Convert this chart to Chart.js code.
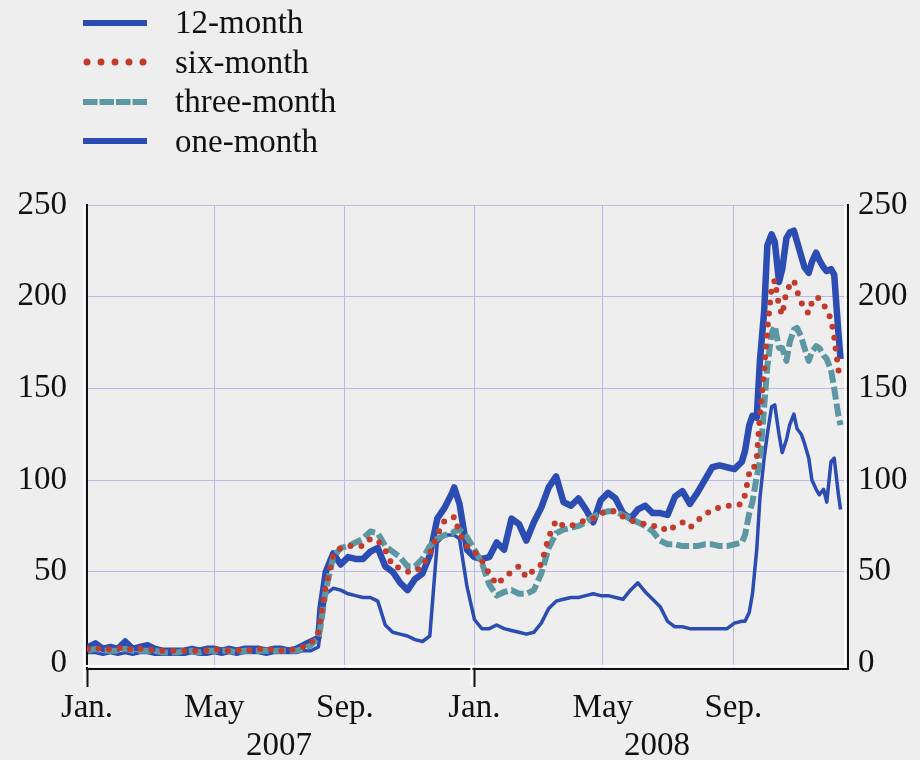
<!DOCTYPE html>
<html>
<head>
<meta charset="utf-8">
<script src="https://cdn.jsdelivr.net/npm/chart.js@4.4.1/dist/chart.umd.min.js"></script>
<style>
  html, body { margin: 0; padding: 0; background: #eeeeee; }
  #wrap { position: relative; width: 920px; height: 760px; overflow: hidden; }
  #chart { position: absolute; left: 0; top: 0; }
  #legend { position: absolute; left: 83px; top: 3px; }
  .item { display: flex; align-items: center; height: 39.5px; }
  .item canvas { width: 64px; height: 12px; margin-right: 28px; }
  .item span { font: 33px 'Liberation Serif', 'Times New Roman', serif; color: #111; line-height: 1; white-space: nowrap; }
</style>
</head>
<body>
<div id="wrap">
  <canvas id="chart" width="920" height="760"></canvas>
  <div id="legend"></div>
</div>
<script>
// Observation dates (weekly, denser around the sharpest moves)
const dates = [
  '2007-01-02','2007-01-09','2007-01-16','2007-01-23','2007-01-30','2007-02-06','2007-02-13','2007-02-20','2007-02-27','2007-03-06',
  '2007-03-13','2007-03-20','2007-03-27','2007-04-03','2007-04-10','2007-04-17','2007-04-24','2007-05-01','2007-05-08','2007-05-15',
  '2007-05-22','2007-05-29','2007-06-05','2007-06-12','2007-06-19','2007-06-26','2007-07-03','2007-07-10','2007-07-17','2007-07-24',
  '2007-07-31','2007-08-07','2007-08-09','2007-08-14','2007-08-21','2007-08-28','2007-09-04','2007-09-11','2007-09-18','2007-09-25',
  '2007-10-02','2007-10-09','2007-10-16','2007-10-23','2007-10-30','2007-11-06','2007-11-13','2007-11-20','2007-11-27','2007-12-04',
  '2007-12-11','2007-12-13','2007-12-18','2007-12-25',
  '2008-01-01','2008-01-08','2008-01-15','2008-01-22','2008-01-29','2008-02-05','2008-02-12','2008-02-19','2008-02-26','2008-03-04',
  '2008-03-11','2008-03-18','2008-03-25','2008-04-01','2008-04-08','2008-04-15','2008-04-22','2008-04-29','2008-05-06','2008-05-13',
  '2008-05-20','2008-05-27','2008-06-03','2008-06-10','2008-06-17','2008-06-24','2008-07-01','2008-07-08','2008-07-15','2008-07-22',
  '2008-07-29','2008-08-05','2008-08-12','2008-08-19','2008-08-26','2008-09-02','2008-09-09','2008-09-12','2008-09-16','2008-09-19',
  '2008-09-23','2008-09-26','2008-09-30','2008-10-03','2008-10-07','2008-10-10','2008-10-14','2008-10-17','2008-10-21','2008-10-24',
  '2008-10-28','2008-10-31','2008-11-04','2008-11-07','2008-11-11','2008-11-14','2008-11-18','2008-11-21','2008-11-25','2008-11-28',
  '2008-12-02','2008-12-05','2008-12-09','2008-12-11'
];

// Spreads, basis points
const twelveMonth = [
  9,11,8,9,8,12,8,9,10,8, 7,7,7,7,8,7,8,8,7,8, 7,8,8,8,7,8,8,7,8,10, 12,
  14,30,50,60,54,58,57,57,61,63,53,50,44,40,46,49,59,79,85,93,96,87,62,
  58,57,58,66,62,79,76,67,77,85, 96,102,88,86,90,84,77,89,93,90,
  82,79,84,86,82,82,81,91,94,87, 93,100,107,108,107,106,110,116,130,135,
  134,165,192,228,234,230,208,215,232,235, 236,230,222,216,213,219,224,220,216,214,
  215,212,180,166
];
const sixMonth = [
  8,9,7,8,8,9,7,8,8,7, 7,7,7,7,7,7,7,8,7,7, 7,8,7,8,7,8,7,7,8,9, 11,
  17,24,42,59,63,64,64,64,68,67,62,53,52,50,50,53,60,70,78,79,80,71,64,
  61,56,49,43,47,50,53,47,51,54, 69,78,75,75,77,78,79,82,83,83,
  80,78,77,76,75,75,72,75,77,74, 78,81,84,85,86,86,87,92,104,104,
  112,135,160,182,205,209,195,190,203,206, 209,203,197,193,191,197,200,199,196,192,
  188,178,160,155
];
const threeMonth = [
  7,8,7,7,7,8,7,7,7,7, 6,6,6,7,7,6,7,7,7,7, 6,7,7,7,7,7,7,7,7,8, 10,
  14,20,40,58,63,64,66,68,72,71,64,61,58,53,53,57,64,68,70,71,72,73,69,
  62,55,43,37,39,40,38,38,40,49, 63,71,73,74,75,77,80,82,83,83,
  81,79,77,75,72,67,65,65,64,64, 64,65,65,64,64,65,66,70,82,88,
  102,110,140,162,180,184,172,172,165,175, 182,183,178,172,165,170,173,172,168,166,
  160,150,135,130
];
const oneMonth = [
  6,6,5,6,5,6,5,6,6,5, 5,5,5,5,6,5,5,6,5,6, 5,6,6,6,5,6,6,6,6,7, 7,
  9,18,38,41,40,38,37,36,36,34,21,17,16,15,13,12,15,66,70,70,70,68,42,
  24,19,19,21,19,18,17,16,17,22, 30,34,35,36,36,37,38,37,37,36,
  35,40,44,39,35,31,23,20,20,19, 19,19,19,19,19,22,23,23,28,38,
  62,90,112,125,140,141,125,115,122,130, 136,128,125,120,112,100,95,92,95,88,
  110,112,92,84
];

const seriesNames = ['12-month', 'six-month', 'three-month', 'one-month'];
const monthTickDates = ['2007-01-01','2007-05-01','2007-09-01','2008-01-01','2008-05-01','2008-09-01'];
const monthTickLabels = ['Jan.', 'May', 'Sep.', 'Jan.', 'May', 'Sep.'];
const yearTickDates = ['2007-07-01', '2008-06-21'];
const yearTickLabels = ['2007', '2008'];
const valueTicks = [0, 50, 100, 150, 200, 250];

const BLUE = '#2b4cb2';
const RED = '#c23b2b';
const TEAL = '#5c97a3';
const GRID = '#babae4';
const INK = '#111111';
const FONT = "'Liberation Serif', 'Times New Roman', serif";
const FONT_SIZE = 33;
const NONE = 'rgba(0,0,0,0)';

// Dates become day offsets from 1 Jan 2007 on a linear axis
const ORIGIN = Date.UTC(2007, 0, 1);
function dayIndex(s) {
  const [y, m, d] = s.split('-').map(Number);
  return (Date.UTC(y, m - 1, d) - ORIGIN) / 86400000;
}
const days = dates.map(dayIndex);
const points = vals => vals.map((v, i) => ({ x: days[i], y: v }));
const monthTickDays = monthTickDates.map(dayIndex);
const yearTickDays = yearTickDates.map(dayIndex);
const X_MIN = dayIndex('2007-01-01');
const X_MAX = dayIndex('2008-12-18');

const lineBase = { pointRadius: 0, tension: 0, fill: false, borderJoinStyle: 'round' };

const datasets = [
  { ...lineBase, label: seriesNames[0], data: points(twelveMonth), borderColor: BLUE, borderWidth: 6.5, order: 3 },
  { ...lineBase, label: seriesNames[1], data: points(sixMonth), borderColor: RED, borderWidth: 6,
    borderDash: [0, 11], borderCapStyle: 'round', order: 0 },
  { ...lineBase, label: seriesNames[2], data: points(threeMonth), borderColor: TEAL, borderWidth: 6,
    borderDash: [13, 4], order: 1 },
  { ...lineBase, label: seriesNames[3], data: points(oneMonth), borderColor: BLUE, borderWidth: 3.5, order: 2 }
];

// Light relief line running beside the axes
const axisHighlight = {
  id: 'axisHighlight',
  beforeDatasetsDraw(chart) {
    const { ctx, chartArea: a } = chart;
    const xs = chart.scales.x;
    ctx.save();
    ctx.strokeStyle = '#ffffff';
    ctx.lineWidth = 2;
    ctx.beginPath();
    ctx.moveTo(a.left - 3, a.top);
    ctx.lineTo(a.left - 3, a.bottom + 16);
    ctx.moveTo(a.left - 3, a.bottom - 3);
    ctx.lineTo(a.right - 3, a.bottom - 3);
    ctx.moveTo(a.right - 3, a.top);
    ctx.lineTo(a.right - 3, a.bottom - 3);
    const jan08 = xs.getPixelForValue(monthTickDays[3]);
    ctx.moveTo(jan08 - 3, a.bottom - 3);
    ctx.lineTo(jan08 - 3, a.bottom + 16);
    ctx.stroke();
    ctx.restore();
  }
};

const valueAxis = (position, width, padding, showGrid) => ({
  position,
  min: -3,
  max: 250,
  afterBuildTicks: s => { s.ticks = valueTicks.map(v => ({ value: v })); },
  afterFit: s => { s.width = width; },
  ticks: { padding, color: INK, font: { family: FONT, size: FONT_SIZE } },
  grid: showGrid
    ? { color: c => (c.tick && c.tick.value === 0) ? NONE : GRID, lineWidth: 1, drawTicks: false }
    : { display: false, drawTicks: false },
  border: { display: true, color: INK, width: 2 }
});

const chart = new Chart(document.getElementById('chart'), {
  type: 'line',
  data: { datasets },
  plugins: [axisHighlight],
  options: {
    responsive: false,
    animation: false,
    layout: { padding: { top: 205, left: 0, right: 0, bottom: 0 } },
    plugins: { legend: { display: false }, tooltip: { enabled: false } },
    scales: {
      x: {
        type: 'linear', position: 'bottom', weight: 0, min: X_MIN, max: X_MAX,
        afterBuildTicks: s => { s.ticks = monthTickDays.map(v => ({ value: v })); },
        afterFit: s => { s.height = 58; },
        ticks: {
          autoSkip: false, maxRotation: 0, padding: 2, color: INK,
          font: { family: FONT, size: FONT_SIZE },
          callback: (v, i) => monthTickLabels[i]
        },
        grid: {
          color: c => c.index === 0 ? NONE : GRID,
          lineWidth: 1,
          tickLength: 18,
          tickWidth: 2,
          tickColor: c => (c.index === 0 || c.index === 3) ? INK : NONE
        },
        border: { display: true, color: INK, width: 2 }
      },
      xYear: {
        type: 'linear', position: 'bottom', weight: 1, min: X_MIN, max: X_MAX,
        afterBuildTicks: s => { s.ticks = yearTickDays.map(v => ({ value: v })); },
        afterFit: s => { s.height = 33; },
        ticks: {
          autoSkip: false, maxRotation: 0, padding: 0, color: INK,
          font: { family: FONT, size: FONT_SIZE },
          callback: (v, i) => yearTickLabels[i]
        },
        grid: { display: false, drawTicks: false },
        border: { display: false }
      },
      y: valueAxis('left', 87, 20, true),
      y2: valueAxis('right', 72, 10, false)
    }
  }
});

// Legend: one row per series, samples drawn with each series' colour
const legendStyles = [
  { dash: [], width: 6, cap: 'butt', start: 0 },
  { dash: [0, 14], width: 7, cap: 'round', start: 4 },
  { dash: [14.5, 2], width: 6, cap: 'butt', start: 0 },
  { dash: [], width: 6, cap: 'butt', start: 0 }
];
const legendEl = document.getElementById('legend');
chart.data.datasets.forEach((ds, i) => {
  const row = document.createElement('div');
  row.className = 'item';
  const sw = document.createElement('canvas');
  sw.width = 64; sw.height = 12;
  const g = sw.getContext('2d');
  const st = legendStyles[i];
  g.strokeStyle = ds.borderColor;
  g.lineWidth = st.width;
  g.lineCap = st.cap;
  g.setLineDash(st.dash);
  g.beginPath();
  g.moveTo(st.start, 6);
  g.lineTo(64, 6);
  g.stroke();
  const t = document.createElement('span');
  t.textContent = ds.label;
  row.append(sw, t);
  legendEl.append(row);
});
</script>
</body>
</html>
